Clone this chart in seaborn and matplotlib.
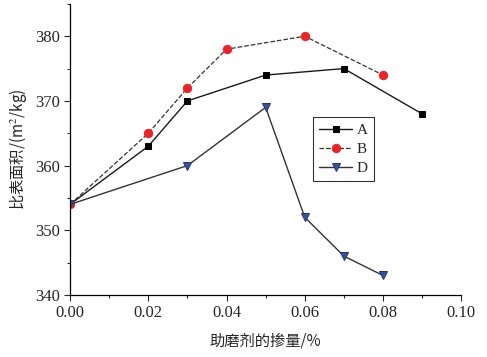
import numpy as np
import pandas as pd
import matplotlib
matplotlib.use("Agg")
import matplotlib.pyplot as plt
import seaborn as sns

sns.set_style("ticks")
plt.rcParams["font.family"] = ["Liberation Serif", "Noto Sans CJK SC"]
plt.rcParams["mathtext.fontset"] = "stix"

# data
x_a = [0.00, 0.02, 0.03, 0.05, 0.07, 0.09]
y_a = [354, 363, 370, 374, 375, 368]
x_b = [0.00, 0.02, 0.03, 0.04, 0.06, 0.08]
y_b = [354, 365, 372, 378, 380, 374]
x_d = [0.00, 0.03, 0.05, 0.06, 0.07, 0.08]
y_d = [354, 360, 369, 352, 346, 343]

fig = plt.figure(figsize=(4.87, 3.57), dpi=100)
ax = fig.add_axes([0.144, 0.174, 0.803, 0.815])

sns.lineplot(x=x_a, y=y_a, ax=ax, color="#1a1a1a", lw=1.0, marker="s",
             markersize=5, markerfacecolor="black", markeredgecolor="black", label="A")
sns.lineplot(x=x_b, y=y_b, ax=ax, color="#333333", lw=0.9, linestyle="--", marker="o",
             markersize=6, markerfacecolor="#e8252b", markeredgecolor="#e8252b", label="B")
sns.lineplot(x=x_d, y=y_d, ax=ax, color="#333333", lw=1.0, marker="v",
             markersize=6, markerfacecolor="#3553a0", markeredgecolor="#27385e", label="D")

ax.set_xlim(0, 0.10)
ax.set_ylim(340, 385)
ax.set_xticks([0.00, 0.02, 0.04, 0.06, 0.08, 0.10])
ax.set_xticks(np.arange(0, 0.101, 0.01), minor=True)
ax.set_yticks([340, 350, 360, 370, 380])
ax.set_yticks(np.arange(340, 386, 5), minor=True)
ax.set_xticklabels([f"{v:.2f}" for v in ax.get_xticks()])
ax.tick_params(axis="both", which="major", labelsize=12, length=4, width=0.8, direction="out")
ax.tick_params(axis="both", which="minor", length=2.5, width=0.8, direction="out")
for s in ["left", "bottom"]:
    ax.spines[s].set_linewidth(0.9)
    ax.spines[s].set_color("black")
sns.despine(ax=ax)

ax.set_xlabel("助磨剂的掺量/%", fontsize=11, family=["Noto Sans CJK SC"], labelpad=8)
ax.set_ylabel("比表面积/(m$^2$/kg)", fontsize=11, family=["Noto Sans CJK SC", "Liberation Serif"], labelpad=4)

leg = ax.legend(loc="upper left", bbox_to_anchor=(0.62, 0.61), frameon=True, fancybox=False,
                edgecolor="black", fontsize=11, handlelength=2.2, borderpad=0.4,
                labelspacing=0.35, handletextpad=0.3, borderaxespad=0)
leg.get_frame().set_linewidth(0.8)

fig.savefig("out.png", dpi=100)
